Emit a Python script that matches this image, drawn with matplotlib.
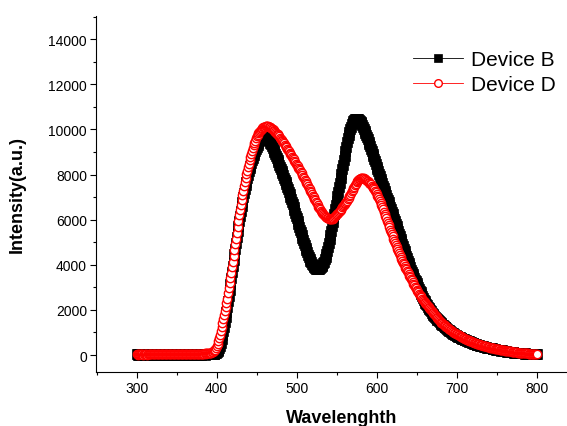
import numpy as np
import matplotlib.pyplot as plt
from matplotlib.ticker import MultipleLocator

plt.rcParams['font.family'] = ['Liberation Sans', 'DejaVu Sans']

# wavelength grid, 1 nm steps (300 ... 800)
wavelength = np.arange(300, 801)

# Device B intensity, one row per 10 nm
device_b = [
    30, 10, 40, 20, 50, 30, 20, 40, 10, 30,            # 300
    50, 20, 30, 40, 10, 30, 60, 20, 40, 30,            # 310
    20, 40, 30, 10, 50, 30, 20, 40, 30, 20,            # 320
    40, 30, 50, 20, 30, 10, 40, 30, 20, 50,            # 330
    30, 20, 40, 30, 10, 40, 30, 50, 20, 30,            # 340
    40, 20, 30, 50, 30, 20, 40, 30, 20, 40,            # 350
    30, 50, 20, 30, 40, 20, 30, 50, 30, 20,            # 360
    40, 30, 20, 40, 30, 50, 20, 30, 40, 30,            # 370
    20, 40, 30, 50, 30, 20, 40, 30, 40, 50,            # 380
    30, 40, 50, 40, 50, 60, 50, 60, 70, 90,            # 390
    120, 170, 230, 320, 420, 550, 700, 870, 1050, 1250,  # 400
    1450, 1670, 1900, 2140, 2380, 2630, 2880, 3140, 3400, 3660,  # 410
    3930, 4200, 4460, 4720, 4980, 5230, 5480, 5720, 5950, 6170,  # 420
    6390, 6600, 6800, 6990, 7180, 7360, 7530, 7690, 7850, 8000,  # 430
    8140, 8270, 8400, 8520, 8640, 8750, 8860, 8960, 9060, 9150,  # 440
    9240, 9320, 9400, 9470, 9540, 9600, 9660, 9710, 9750, 9770,  # 450
    9770, 9740, 9700, 9660, 9610, 9550, 9490, 9420, 9350, 9270,  # 460
    9190, 9110, 9020, 8930, 8840, 8740, 8640, 8540, 8440, 8340,  # 470
    8260, 8160, 8060, 7960, 7860, 7760, 7660, 7560, 7460, 7350,  # 480
    7240, 7130, 7020, 6910, 6800, 6680, 6560, 6440, 6310, 6180,  # 490
    6060, 5930, 5800, 5680, 5560, 5440, 5320, 5200, 5080, 4970,  # 500
    4860, 4750, 4650, 4550, 4450, 4360, 4270, 4190, 4120, 4050,  # 510
    3990, 3940, 3900, 3860, 3830, 3810, 3800, 3800, 3810, 3840,  # 520
    3880, 3930, 3990, 4060, 4140, 4240, 4350, 4470, 4620, 4780,  # 530
    4950, 5130, 5320, 5510, 5700, 5890, 6080, 6270, 6460, 6650,  # 540
    6840, 7040, 7240, 7440, 7640, 7840, 8040, 8240, 8440, 8640,  # 550
    8840, 9040, 9240, 9430, 9600, 9760, 9900, 10020, 10130, 10220,  # 560
    10300, 10360, 10410, 10450, 10470, 10480, 10470, 10450, 10420, 10380,  # 570
    10330, 10270, 10200, 10120, 10040, 9950, 9860, 9760, 9660, 9560,  # 580
    9460, 9360, 9250, 9140, 9030, 8920, 8810, 8700, 8580, 8460,  # 590
    8340, 8240, 8140, 8030, 7920, 7820, 7710, 7610, 7500, 7400,  # 600
    7290, 7190, 7080, 6980, 6870, 6770, 6670, 6570, 6470, 6360,  # 610
    6250, 6140, 6030, 5920, 5810, 5700, 5590, 5480, 5370, 5260,  # 620
    5150, 5040, 4930, 4820, 4710, 4600, 4490, 4380, 4280, 4180,  # 630
    4080, 3980, 3880, 3790, 3700, 3610, 3520, 3430, 3340, 3260,  # 640
    3180, 3100, 3020, 2940, 2860, 2780, 2700, 2620, 2540, 2460,  # 650
    2380, 2320, 2260, 2200, 2140, 2080, 2030, 1980, 1930, 1880,  # 660
    1830, 1790, 1740, 1700, 1650, 1610, 1570, 1530, 1490, 1460,  # 670
    1420, 1390, 1350, 1320, 1280, 1250, 1220, 1190, 1160, 1130,  # 680
    1100, 1070, 1050, 1020, 990, 970, 950, 920, 900, 880,  # 690
    860, 840, 820, 800, 780, 760, 740, 730, 710, 690,  # 700
    680, 660, 650, 630, 620, 600, 590, 570, 560, 540,  # 710
    530, 520, 500, 490, 480, 460, 450, 440, 430, 420,  # 720
    410, 400, 390, 380, 370, 360, 350, 340, 330, 320,  # 730
    310, 300, 290, 290, 300, 270, 260, 260, 250, 240,  # 740
    230, 230, 220, 210, 210, 200, 190, 220, 180, 180,  # 750
    170, 160, 160, 150, 150, 140, 140, 130, 130, 120,  # 760
    120, 140, 110, 110, 100, 100, 90, 90, 90, 80,  # 770
    80, 80, 70, 70, 70, 60, 90, 60, 60, 50,  # 780
    50, 50, 50, 40, 40, 40, 40, 30, 30, 30,  # 790
    30,  # 800
]

# Device D intensity, one row per 10 nm
device_d = [
    40, 20, 50, 30, 60, 40, 30, 50, 20, 40,            # 300
    30, 60, 40, 20, 50, 40, 30, 60, 40, 30,            # 310
    50, 30, 40, 60, 30, 50, 40, 30, 50, 40,            # 320
    30, 50, 40, 60, 40, 30, 50, 40, 60, 30,            # 330
    50, 40, 30, 60, 50, 40, 30, 50, 40, 60,            # 340
    40, 50, 30, 40, 60, 50, 40, 30, 50, 40,            # 350
    60, 40, 50, 30, 40, 60, 50, 40, 50, 30,            # 360
    40, 60, 50, 40, 30, 50, 60, 40, 50, 60,            # 370
    50, 40, 60, 50, 60, 70, 60, 70, 80, 70,            # 380
    80, 90, 100, 110, 130, 150, 170, 200, 240, 300,    # 390
    380, 480, 600, 740, 890, 1050, 1220, 1400, 1590, 1780,  # 400
    1960, 2140, 2320, 2500, 2730, 2960, 3190, 3420, 3650, 3880,  # 410
    4130, 4380, 4640, 4900, 5160, 5430, 5690, 5940, 6190, 6430,  # 420
    6660, 6880, 7090, 7290, 7480, 7670, 7850, 8020, 8180, 8330,  # 430
    8480, 8630, 8770, 8910, 9040, 9170, 9290, 9400, 9500, 9600,  # 440
    9690, 9770, 9840, 9900, 9950, 9990, 10030, 10060, 10090, 10110,  # 450
    10130, 10140, 10150, 10150, 10140, 10130, 10110, 10090, 10070, 10040,  # 460
    10010, 9980, 9940, 9900, 9860, 9820, 9780, 9740, 9690, 9640,  # 470
    9590, 9540, 9490, 9440, 9390, 9330, 9270, 9210, 9150, 9090,  # 480
    9030, 8970, 8910, 8850, 8790, 8730, 8670, 8610, 8550, 8490,  # 490
    8430, 8370, 8310, 8250, 8190, 8120, 8050, 7980, 7910, 7840,  # 500
    7770, 7700, 7630, 7560, 7490, 7420, 7350, 7280, 7210, 7140,  # 510
    7070, 7000, 6930, 6860, 6790, 6720, 6650, 6580, 6520, 6460,  # 520
    6400, 6350, 6300, 6250, 6210, 6170, 6140, 6110, 6080, 6060,  # 530
    6040, 6030, 6020, 6020, 6030, 6050, 6080, 6110, 6150, 6190,  # 540
    6230, 6270, 6310, 6350, 6390, 6440, 6490, 6540, 6590, 6630,  # 550
    6680, 6730, 6780, 6840, 6900, 6970, 7040, 7110, 7180, 7250,  # 560
    7320, 7390, 7460, 7530, 7590, 7650, 7700, 7750, 7790, 7820,  # 570
    7840, 7850, 7850, 7840, 7830, 7810, 7790, 7760, 7730, 7700,  # 580
    7670, 7640, 7600, 7560, 7510, 7460, 7400, 7340, 7280, 7210,  # 590
    7140, 7070, 6990, 6910, 6830, 6740, 6650, 6560, 6460, 6360,  # 600
    6260, 6160, 6060, 5960, 5860, 5760, 5660, 5560, 5460, 5360,  # 610
    5260, 5160, 5060, 4960, 4870, 4780, 4690, 4600, 4510, 4420,  # 620
    4340, 4260, 4180, 4100, 4020, 3940, 3870, 3800, 3730, 3660,  # 630
    3590, 3520, 3450, 3380, 3310, 3240, 3170, 3100, 3030, 2960,  # 640
    2900, 2840, 2780, 2720, 2660, 2600, 2550, 2500, 2450, 2400,  # 650
    2350, 2300, 2250, 2200, 2160, 2120, 2080, 2040, 2000, 1960,  # 660
    1910, 1860, 1820, 1770, 1730, 1690, 1640, 1600, 1560, 1510,  # 670
    1470, 1440, 1410, 1380, 1350, 1320, 1290, 1260, 1230, 1200,  # 680
    1170, 1140, 1120, 1090, 1070, 1040, 1020, 990, 970, 950,  # 690
    930, 910, 890, 870, 850, 830, 810, 790, 770, 750,  # 700
    730, 710, 700, 680, 660, 650, 630, 620, 600, 590,  # 710
    570, 560, 550, 530, 520, 510, 500, 480, 470, 460,  # 720
    450, 440, 430, 420, 410, 400, 390, 380, 370, 360,  # 730
    350, 340, 330, 320, 320, 310, 300, 290, 280, 280,  # 740
    270, 260, 250, 250, 240, 230, 230, 220, 210, 210,  # 750
    200, 190, 190, 180, 180, 170, 170, 160, 160, 150,  # 760
    150, 140, 140, 130, 130, 120, 120, 110, 110, 100,  # 770
    100, 100, 90, 90, 80, 80, 80, 70, 70, 70,  # 780
    60, 60, 60, 50, 50, 50, 50, 40, 40, 40,  # 790
    30,  # 800
]

fig = plt.figure(figsize=(5.67, 4.27), dpi=100)
ax = fig.add_axes([96 / 567, 54.3 / 427, 471 / 567, 355.7 / 427])

ax.plot(wavelength, device_b, color='black', lw=0.8, marker='s', ms=6.5,
        mfc='black', mec='black', mew=0.5, label='Device B')
ax.plot(wavelength, device_d, color='red', lw=0.8, marker='o', ms=6,
        mfc='white', mec='red', mew=1.0, label='Device D')

ax.set_xlim(249, 838)
ax.set_ylim(-740, 15030)

ax.xaxis.set_major_locator(MultipleLocator(100))
ax.xaxis.set_minor_locator(MultipleLocator(50))
ax.yaxis.set_major_locator(MultipleLocator(2000))
ax.yaxis.set_minor_locator(MultipleLocator(1000))

for s in ['top', 'right']:
    ax.spines[s].set_visible(False)
for s in ['left', 'bottom']:
    ax.spines[s].set_linewidth(0.8)

ax.tick_params(which='major', direction='out', length=4.5, width=0.8,
               labelsize=10, pad=2)
ax.tick_params(which='minor', direction='out', length=2.5, width=0.8)

ax.set_xlabel('Wavelenghth', fontsize=13, fontweight='bold', va='center')
ax.set_ylabel('Intensity(a.u.)', fontsize=13, fontweight='bold', va='center')
ax.xaxis.set_label_coords(0.522, -0.130)
ax.yaxis.set_label_coords(-0.168, 0.5)

leg = ax.legend(loc='upper left', bbox_to_anchor=(413 / 567, 1 - 51 / 427),
                bbox_transform=fig.transFigure, frameon=False, borderpad=0,
                borderaxespad=0, handlelength=2.4, handletextpad=0.4,
                labelspacing=0.3, numpoints=1, fontsize=15)
for h in leg.legend_handles:
    h.set_markersize(5.5)
    h.set_linewidth(0.6)

fig.savefig('out.png', dpi=100)
